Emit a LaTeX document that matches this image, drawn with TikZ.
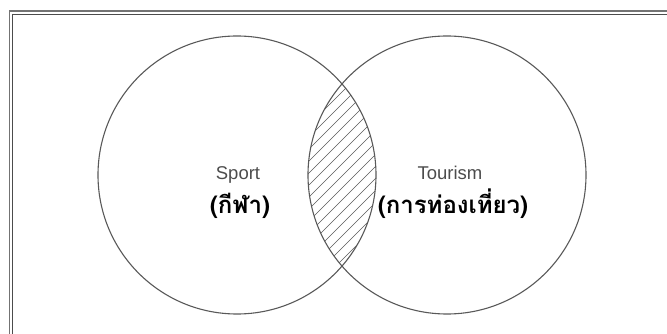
\documentclass[tikz,border=0pt]{standalone}
\usepackage{fontspec}
\setmainfont{Liberation Sans}
\newfontfamily\thaifont[Script=Thai]{Loma}
\usepackage{tikz}

\tikzset{
  set/.style={circle, draw=black!65, line width=1.1pt, minimum size=278pt, inner sep=0pt},
  engname/.style={anchor=base, text=black!70, font=\fontsize{18.5}{20}\selectfont},
  thainame/.style={anchor=base, font=\thaifont\bfseries\fontsize{24}{26}\selectfont}
}

\begin{document}
\begin{tikzpicture}[x=1pt, y=-1pt]

        \useasboundingbox (0, 0) rectangle (667, 334);

        % frame
        \draw[black!55, line width=1.3pt] (9.5, 334) |- (667, 11);
        \draw[black!70, line width=0.9pt] (12.5, 334) |- (667, 14);

        \node[set] (sport) at (237, 175) {};
        \node[set] (tourism) at (447, 175) {};

        % hatching in the overlap
        \begin{scope}
          \clip (237, 175) circle (139);
          \clip (447, 175) circle (139);
          \foreach \k in {0, 12, ..., 420}
            \draw[black!65, line width=0.7pt] (290, \k) -- ++(120, -120);
        \end{scope}

        \node[engname] (sporten) at (238, 180) {Sport};
        \node[thainame] (sportth) at (240, 213) {(กีฬา)};
        \node[engname] (tourismen) at (450, 180) {Tourism};
        \node[thainame] (tourismth) at (453, 213) {(การท่องเที่ยว)};

\end{tikzpicture}
\end{document}
